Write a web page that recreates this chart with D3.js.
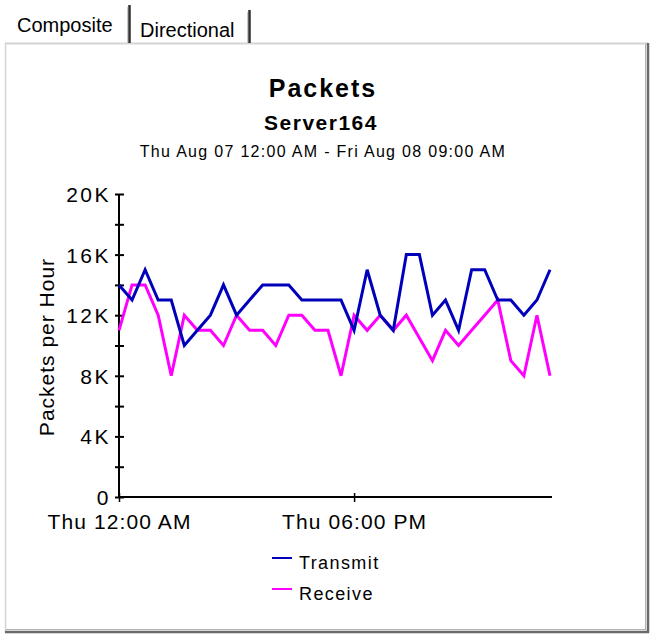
<!DOCTYPE html>
<html>
<head>
	<meta http-equiv="Content-Type" content="text/html; charset=utf-8">
	<title>Packets</title>
	<script src="https://d3js.org/d3.v7.min.js"></script>
	<style>
		body { margin: 0; background: #fff; }
		text { font-family: 'Liberation Sans', Arial, sans-serif; fill: #000; }
		.tab { font-size: 20px; }
		.title { font-size: 25px; font-weight: 700; letter-spacing: 2px; }
		.server { font-size: 21px; font-weight: 700; letter-spacing: 1.5px; }
		.subtitle { font-size: 16px; letter-spacing: 1.3px; }
		.axis text { font-size: 21px; letter-spacing: 1.1px; }
		.yaxis text { letter-spacing: 2.5px; }
		.ytitle { font-size: 21px; letter-spacing: 1px; }
		.legend text { font-size: 18px; letter-spacing: 1.4px; }
		.series { fill: none; stroke-width: 3; stroke-linejoin: miter; }
	</style>
</head>
<body>
<script>
// hourly values, Thu Aug 07 12:00 AM .. Fri Aug 08 09:00 AM (in K packets)
var hours = d3.range(0, 34);
var transmit = [14, 13, 15, 13, 13, 10, 11, 12, 14, 12, 13, 14, 14, 14, 13, 13, 13,
	13, 11, 15, 12, 11, 16, 16, 12, 13, 11, 15, 15, 13, 13, 12, 13, 15];
var receive = [11, 14, 14, 12, 8, 12, 11, 11, 10, 12, 11, 11, 10, 12, 12, 11, 11,
	8, 12, 11, 12, 11, 12, 10.5, 9, 11, 10, 11, 12, 13, 9, 8, 12, 8];
var seriesNames = ["Transmit", "Receive"];
var seriesColors = ["#0000bb", "#ff00ff"];
var yTicks = [0, 4, 8, 12, 16, 20];
var yTickLabels = ["0", "4K", "8K", "12K", "16K", "20K"];
var xTicks = [0, 18];
var xTickLabels = ["Thu 12:00 AM", "Thu 06:00 PM"];
var tabs = ["Composite", "Directional"];

var width = 652, height = 634;

var svg = d3.select("body").append("svg")
	.attr("width", width)
	.attr("height", height);

// panel frame
var frame = svg.append("g");
frame.append("line").attr("x1", 5).attr("x2", 648).attr("y1", 43.5).attr("y2", 43.5)
	.style("stroke", "#d4d4d4").style("stroke-width", 2);
frame.append("line").attr("x1", 5.5).attr("x2", 5.5).attr("y1", 43).attr("y2", 632)
	.style("stroke", "#d4d4d4").style("stroke-width", 1.5);
frame.append("line").attr("x1", 645.5).attr("x2", 645.5).attr("y1", 44).attr("y2", 630)
	.style("stroke", "#b0b0b0").style("stroke-width", 1);
frame.append("line").attr("x1", 648).attr("x2", 648).attr("y1", 43).attr("y2", 633)
	.style("stroke", "#6a6a6a").style("stroke-width", 2.5);
frame.append("line").attr("x1", 6).attr("x2", 646).attr("y1", 629.5).attr("y2", 629.5)
	.style("stroke", "#b0b0b0").style("stroke-width", 1);
frame.append("line").attr("x1", 5).attr("x2", 649).attr("y1", 632).attr("y2", 632)
	.style("stroke", "#6a6a6a").style("stroke-width", 2.5);

// tabs
var tabX = [17, 140], tabBase = [32, 37], sepX = [129.5, 249.5], sepTop = [5, 10];
tabs.forEach(function(t, i) {
	svg.append("text").attr("class", "tab")
		.attr("x", tabX[i]).attr("y", tabBase[i]).text(t);
	svg.append("line").attr("x1", sepX[i]).attr("x2", sepX[i])
		.attr("y1", sepTop[i]).attr("y2", 43)
		.style("stroke", "#303030").style("stroke-width", 2.5);
	svg.append("line").attr("x1", sepX[i] - 2).attr("x2", sepX[i] - 2)
		.attr("y1", sepTop[i] + 2).attr("y2", 43)
		.style("stroke", "#c8c8c8").style("stroke-width", 1);
});

// titles
svg.append("text").attr("class", "title").attr("x", 323).attr("y", 97)
	.attr("text-anchor", "middle").text("Packets");
svg.append("text").attr("class", "server").attr("x", 321).attr("y", 130)
	.attr("text-anchor", "middle").text("Server164");
svg.append("text").attr("class", "subtitle").attr("x", 323).attr("y", 157)
	.attr("text-anchor", "middle").text("Thu Aug 07 12:00 AM - Fri Aug 08 09:00 AM");

// scales
var x = d3.scaleLinear().domain([0, 33]).range([119, 550]);
var y = d3.scaleLinear().domain([0, 20]).range([497, 194]);

// y axis: labelled ticks every 4K, plain ticks every 2K
var yAxis = svg.append("g").attr("class", "axis yaxis").attr("transform", "translate(119,0)")
	.call(d3.axisLeft(y).tickValues(d3.range(0, 21, 2)).tickSize(4).tickPadding(4)
		.tickFormat(function(d) {
			var k = yTicks.indexOf(d);
			return k < 0 ? "" : yTickLabels[k];
		}));
yAxis.select(".domain").attr("d", "M0," + y(20) + "V" + y(0))
	.style("stroke", "#000").style("stroke-width", 2);
yAxis.selectAll(".tick line").attr("x1", 5).style("stroke", "#000").style("stroke-width", 2);
yAxis.selectAll(".tick text").attr("dy", "0.36em");

// x axis
var xAxis = svg.append("g").attr("class", "axis").attr("transform", "translate(0,497)")
	.call(d3.axisBottom(x).tickValues(xTicks).tickSize(5).tickPadding(12)
		.tickFormat(function(d, i) { return xTickLabels[i]; }));
xAxis.select(".domain").attr("d", "M" + x(0) + ",0H552")
	.style("stroke", "#000").style("stroke-width", 2);
xAxis.selectAll(".tick line").attr("y1", -4).style("stroke", "#000").style("stroke-width", 1.5);

svg.append("text").attr("class", "ytitle")
	.attr("transform", "translate(54,347) rotate(-90)")
	.attr("text-anchor", "middle").text("Packets per Hour");

// lines
var line = d3.line()
	.x(function(d, i) { return x(hours[i]); })
	.y(function(d) { return y(d); });

[transmit, receive].slice().reverse().forEach(function(s, j) {
	var i = 1 - j;
	svg.append("path").attr("class", "series")
		.attr("d", line(s))
		.style("stroke", seriesColors[i]);
});

// legend
var legend = svg.append("g").attr("class", "legend");
seriesNames.forEach(function(n, i) {
	var ly = 558 + i * 31;
	legend.append("line").attr("x1", 272).attr("x2", 292).attr("y1", ly).attr("y2", ly)
		.style("stroke", seriesColors[i]).style("stroke-width", 2);
	legend.append("text").attr("x", 299).attr("y", ly + 11).text(n);
});
</script>
</body>
</html>
